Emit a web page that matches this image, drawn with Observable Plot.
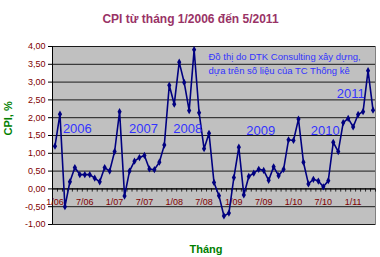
<!DOCTYPE html>
<html><head><meta charset="utf-8">
<script src="https://cdn.jsdelivr.net/npm/d3@7"></script>
<script src="https://cdn.jsdelivr.net/npm/@observablehq/plot@0.6"></script>
<style>body{margin:0;background:#fff}</style>
</head><body><div id="chart"></div>
<script>
const title = "CPI từ tháng 1/2006 đến 5/2011";
const xTitle = "Tháng";
const yTitle = "CPI, %";
const note = "Đồ thị do DTK Consulting xây dựng,\ndựa trên số liệu của TC Thống kê";

const cpi2006 = [1.20, 2.10, -0.50, 0.20, 0.60, 0.40, 0.40, 0.40, 0.30, 0.20, 0.60, 0.50];
const cpi2007 = [1.05, 2.17, -0.20, 0.50, 0.78, 0.88, 0.94, 0.56, 0.54, 0.75, 1.23, 2.91];
const cpi2008 = [2.38, 3.56, 2.99, 2.20, 3.91, 2.14, 1.13, 1.56, 0.18, -0.19, -0.76, -0.68];
const cpi2009 = [0.32, 1.17, -0.17, 0.35, 0.44, 0.55, 0.52, 0.24, 0.62, 0.37, 0.55, 1.38];
const cpi2010 = [1.36, 1.96, 0.75, 0.14, 0.27, 0.22, 0.06, 0.23, 1.31, 1.05, 1.86, 1.98];
const cpi2011 = [1.74, 2.09, 2.17, 3.32, 2.21];

const tickLabels = ["1/06", "7/06", "1/07", "7/07", "1/08", "7/08", "1/09", "7/09", "1/10", "7/10", "1/11"];
const yTicks = [-1, -0.5, 0, 0.5, 1, 1.5, 2, 2.5, 3, 3.5, 4];

const yearLabels = ["2006", "2007", "2008", "2009", "2010", "2011"];
const yearAnchorMonth = [4.5, 17.8, 26.7, 41.4, 54.4, 59.5];
const yearAnchorValue = [1.68, 1.68, 1.68, 1.63, 1.63, 2.67];

const cpi = [...cpi2006, ...cpi2007, ...cpi2008, ...cpi2009, ...cpi2010, ...cpi2011];
const data = cpi.map((v, i) => ({i, v}));
const fmt = d => d.toFixed(2).replace(".", ",");
const boundaries = d3.range(cpi.length + 1).map(k => k - 0.5);

const chart = Plot.plot({
  width: 380, height: 257,
  marginLeft: 52, marginRight: 5, marginTop: 46, marginBottom: 33,
  x: {domain: [-0.5, cpi.length - 0.5], axis: null},
  y: {domain: [-1, 4], axis: null},
  style: {fontFamily: "'Liberation Sans', Arial, sans-serif", background: "white", overflow: "visible"},
  marks: [
    Plot.frame({fill: "#c0c0c0", stroke: "#808080"}),
    Plot.ruleY(yTicks, {stroke: "#1a1a1a", strokeWidth: 1}),
    Plot.axisY({ticks: yTicks, tickFormat: fmt, tickSize: 4, tickPadding: 3, fill: "#800000", stroke: "#000", fontSize: 9, label: null}),
    Plot.ruleX([-0.5], {stroke: "#000"}),
    Plot.ruleY([0], {stroke: "#000"}),
    Plot.ruleX(boundaries, {y1: 0, y2: -0.09, stroke: "#000", strokeWidth: 0.8}),
    Plot.text(tickLabels, {x: (d, k) => k * 6, y: 0, dy: 13, fill: "#800000", fontSize: 9}),
    Plot.line(data, {x: "i", y: "v", stroke: "#000080", strokeWidth: 1.6}),
    Plot.dot(data, {x: "i", y: "v", symbol: "diamond", fill: "#000080", r: 2.2}),
    Plot.text(yearLabels, {x: (d, k) => yearAnchorMonth[k], y: (d, k) => yearAnchorValue[k], fill: "#3333ff", fontSize: 13}),
    Plot.text([note], {frameAnchor: "top-left", dx: 156, dy: 4, textAnchor: "start", lineHeight: 1.45, fill: "#3333ff", fontSize: 9.5}),
    Plot.text([title], {frameAnchor: "top", dx: -23.5, dy: -32.5, fill: "#993366", fontSize: 12, fontWeight: "bold"}),
    Plot.text([xTitle], {frameAnchor: "bottom", dx: -8, dy: 28, lineAnchor: "bottom", fill: "#008000", fontSize: 11, fontWeight: "bold"}),
    Plot.text([yTitle], {frameAnchor: "left", dx: -44.5, rotate: -90, fill: "#008000", fontSize: 11, fontWeight: "bold"})
  ]
});
document.getElementById("chart").appendChild(chart);
</script>
</body></html>
